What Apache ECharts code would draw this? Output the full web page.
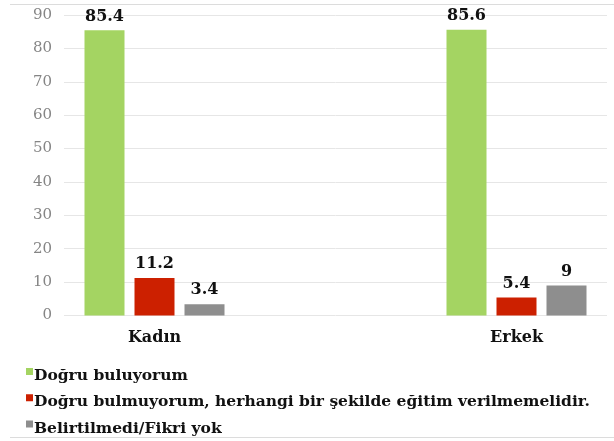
<!DOCTYPE html>
<html>
<head>
<meta charset="utf-8">
<script src="https://cdn.jsdelivr.net/npm/echarts@6/dist/echarts.min.js"></script>
<style>
  html, body { margin: 0; padding: 0; background: #fff; }
  #chart { width: 614px; height: 441px; }
</style>
</head>
<body>
<div id="chart"></div>
<script>
// Groups along the x axis (middle slot left empty as a spacer)
const categories = ['Kadın', '', 'Erkek'];
const seriesNames = [
  'Doğru buluyorum',
  'Doğru bulmuyorum, herhangi bir şekilde eğitim verilmemelidir.',
  'Belirtilmedi/Fikri yok'
];
const agreeValues = [85.4, null, 85.6];
const disagreeValues = [11.2, null, 5.4];
const noAnswerValues = [3.4, null, 9];
const yTicks = [0, 10, 20, 30, 40, 50, 60, 70, 80, 90];

const colors = ['#a4d462', '#cc2000', '#8e8e8e'];
const serif = '"DejaVu Serif", "Liberation Serif", serif';

const chart = echarts.init(document.getElementById('chart'), null, { renderer: 'canvas' });

function makeSeries(name, data, color) {
  return {
    name: name,
    type: 'bar',
    data: data,
    barWidth: 40,
    barGap: '25%',
    itemStyle: { color: color },
    label: {
      show: true,
      position: 'top',
      distance: 6,
      fontFamily: serif,
      fontWeight: 'bold',
      fontSize: 16,
      color: '#111'
    }
  };
}

// Small square sitting at the top of the legend row
const legendIcon = 'path://M0,0h7v7h-7zM0,16h0.01v0.01h-0.01z';

chart.setOption({
  animation: false,
  backgroundColor: '#fff',
  grid: { left: 64, right: 7, top: 15, height: 300.5, containLabel: false },
  xAxis: {
    type: 'category',
    data: categories,
    axisLine: { show: false },
    axisTick: { show: false },
    axisLabel: {
      fontFamily: serif,
      fontWeight: 'bold',
      fontSize: 16,
      color: '#111',
      margin: 14
    }
  },
  yAxis: {
    type: 'value',
    min: yTicks[0],
    max: yTicks[yTicks.length - 1],
    interval: 10,
    axisLine: { show: false },
    axisTick: { show: false },
    axisLabel: {
      fontFamily: serif,
      fontSize: 15,
      color: '#858585',
      margin: 12
    },
    splitLine: { lineStyle: { color: '#e6e6e6', width: 1 } }
  },
  legend: {
    orient: 'vertical',
    left: 26,
    top: 368,
    padding: 0,
    itemWidth: 7,
    itemHeight: 16,
    itemGap: 10.3,
    icon: legendIcon,
    textStyle: {
      fontFamily: serif,
      fontWeight: 'bold',
      fontSize: 15.5,
      color: '#111',
      padding: [0, 0, 0, -4]
    },
    data: seriesNames
  },
  series: [
    makeSeries(seriesNames[0], agreeValues, colors[0]),
    makeSeries(seriesNames[1], disagreeValues, colors[1]),
    makeSeries(seriesNames[2], noAnswerValues, colors[2])
  ],
  graphic: [
    { type: 'line', shape: { x1: 10, y1: 4.5, x2: 614, y2: 4.5 }, style: { stroke: '#dcdcdc', lineWidth: 1 } },
    { type: 'line', shape: { x1: 10, y1: 437.5, x2: 614, y2: 437.5 }, style: { stroke: '#dcdcdc', lineWidth: 1 } }
  ]
});
</script>
</body>
</html>
